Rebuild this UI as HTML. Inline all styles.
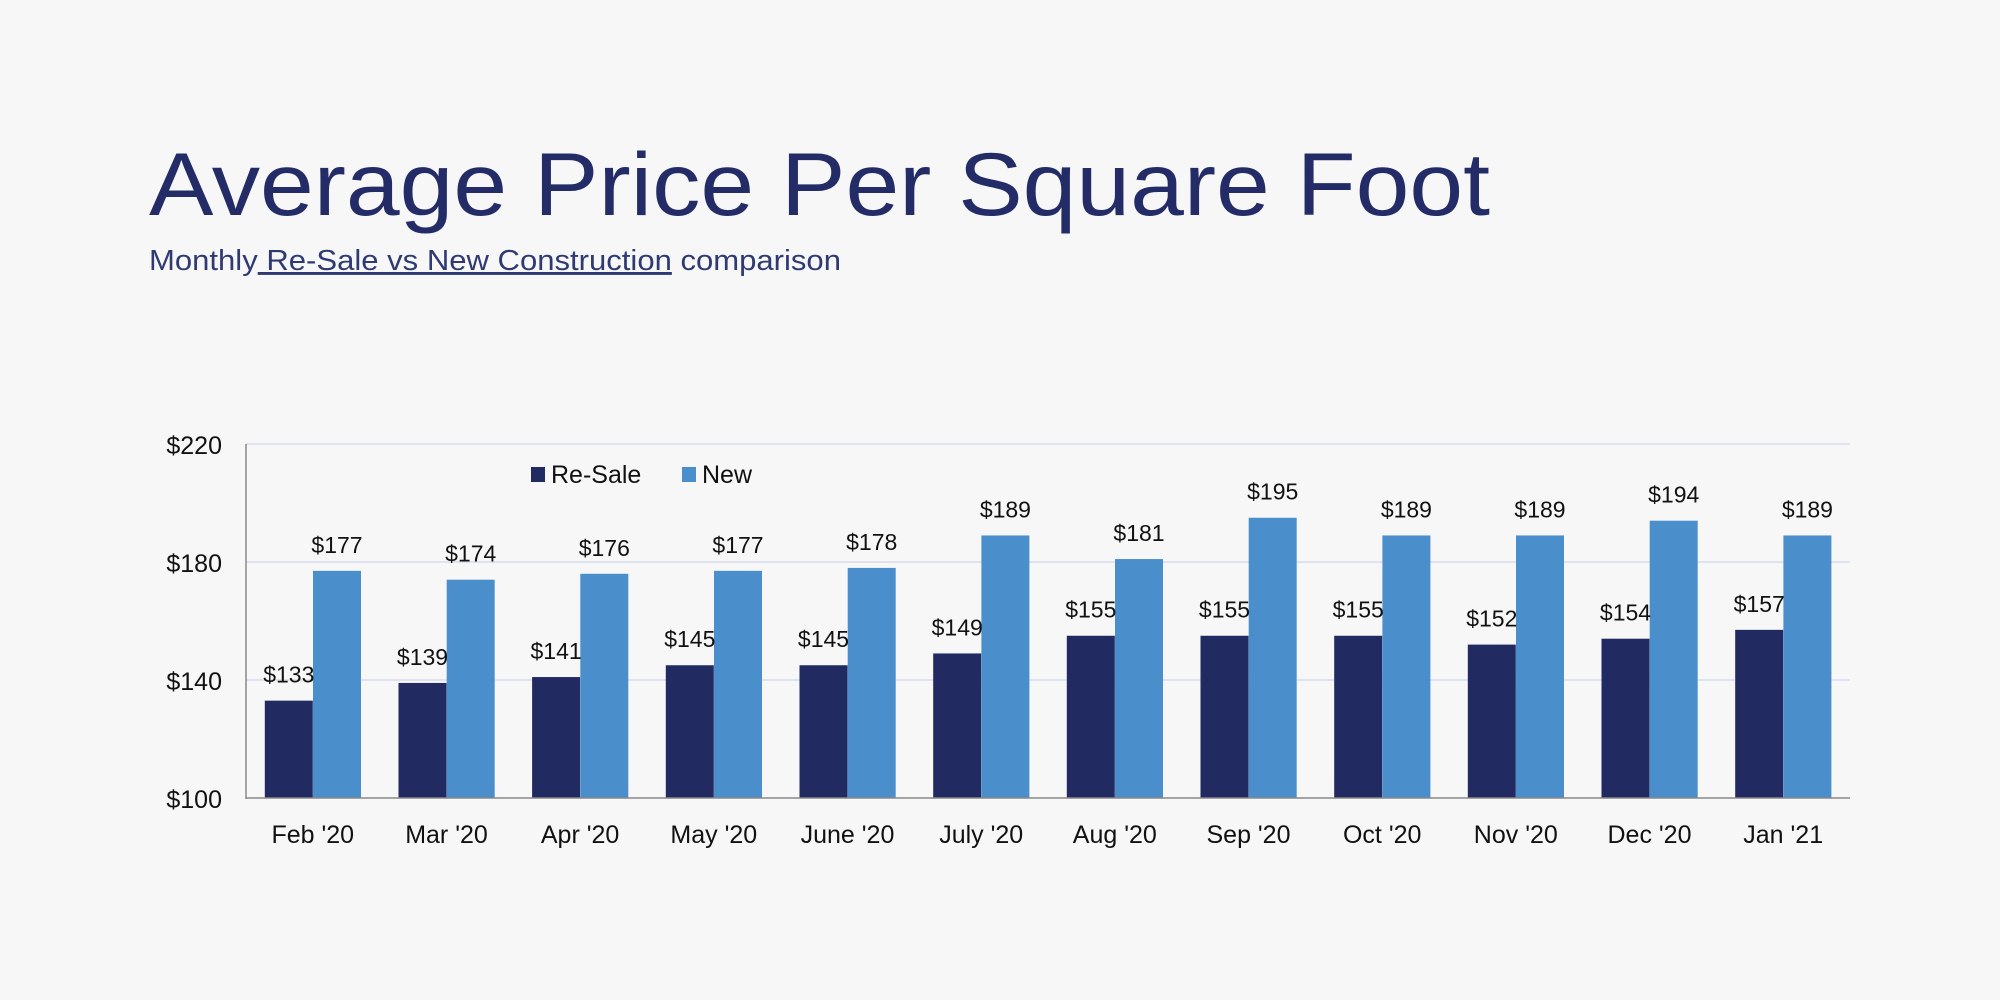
<!DOCTYPE html>
<html><head><meta charset="utf-8"><style>
html,body{margin:0;padding:0;background:#f7f7f7;}
svg{display:block;font-family:"Liberation Sans",sans-serif;}
</style></head><body>
<svg width="2000" height="1000" viewBox="0 0 2000 1000" xmlns="http://www.w3.org/2000/svg">
<rect width="2000" height="1000" fill="#f7f7f7"/>
<text x="149" y="215" font-size="89" fill="#232c66" textLength="1341" lengthAdjust="spacingAndGlyphs">Average Price Per Square Foot</text>
<text x="149" y="270" font-size="29" fill="#2f3a73" textLength="692" lengthAdjust="spacingAndGlyphs">Monthly<tspan text-decoration="underline"> Re-Sale vs New Construction</tspan> comparison</text>
<line x1="246" y1="444" x2="1850" y2="444" stroke="#dfe2ef" stroke-width="2"/>
<line x1="246" y1="562" x2="1850" y2="562" stroke="#dfe2ef" stroke-width="2"/>
<line x1="246" y1="680" x2="1850" y2="680" stroke="#dfe2ef" stroke-width="2"/>
<g font-size="25" fill="#111" text-anchor="end">
<text x="222" y="454">$220</text><text x="222" y="572">$180</text><text x="222" y="690">$140</text><text x="222" y="808">$100</text>
</g>
<rect x="531" y="467" width="14" height="15" fill="#222a62"/>
<text x="551" y="483" font-size="25" fill="#111">Re-Sale</text>
<rect x="682" y="467" width="14" height="15" fill="#4a8fcc"/>
<text x="702" y="483" font-size="25" fill="#111">New</text>
<g fill="#222a62">
<rect x="264.8" y="700.65" width="48" height="97.35"/>
<rect x="398.5" y="682.95" width="48" height="115.05"/>
<rect x="532.1" y="677.05" width="48" height="120.95"/>
<rect x="665.8" y="665.25" width="48" height="132.75"/>
<rect x="799.5" y="665.25" width="48" height="132.75"/>
<rect x="933.2" y="653.45" width="48" height="144.55"/>
<rect x="1066.8" y="635.75" width="48" height="162.25"/>
<rect x="1200.5" y="635.75" width="48" height="162.25"/>
<rect x="1334.2" y="635.75" width="48" height="162.25"/>
<rect x="1467.8" y="644.6" width="48" height="153.4"/>
<rect x="1601.5" y="638.7" width="48" height="159.3"/>
<rect x="1735.2" y="629.85" width="48" height="168.15"/>
</g>
<g fill="#4a8fcc">
<rect x="313" y="570.85" width="48" height="227.15"/>
<rect x="446.7" y="579.7" width="48" height="218.3"/>
<rect x="580.3" y="573.8" width="48" height="224.2"/>
<rect x="714" y="570.85" width="48" height="227.15"/>
<rect x="847.7" y="567.9" width="48" height="230.1"/>
<rect x="981.4" y="535.45" width="48" height="262.55"/>
<rect x="1115" y="559.05" width="48" height="238.95"/>
<rect x="1248.7" y="517.75" width="48" height="280.25"/>
<rect x="1382.4" y="535.45" width="48" height="262.55"/>
<rect x="1516" y="535.45" width="48" height="262.55"/>
<rect x="1649.7" y="520.7" width="48" height="277.3"/>
<rect x="1783.4" y="535.45" width="48" height="262.55"/>
</g>
<line x1="246" y1="444" x2="246" y2="799" stroke="#888" stroke-width="1.5"/>
<line x1="246" y1="798" x2="1850" y2="798" stroke="#888" stroke-width="1.5"/>
<g font-size="23" fill="#111" text-anchor="middle">
<text x="288.8" y="682.6">$133</text>
<text x="422.5" y="665">$139</text>
<text x="556.1" y="659">$141</text>
<text x="689.8" y="647.2">$145</text>
<text x="823.5" y="647.2">$145</text>
<text x="957.2" y="635.4">$149</text>
<text x="1090.8" y="617.7">$155</text>
<text x="1224.5" y="617.7">$155</text>
<text x="1358.2" y="617.7">$155</text>
<text x="1491.8" y="626.6">$152</text>
<text x="1625.5" y="620.7">$154</text>
<text x="1759.2" y="611.8">$157</text>
<text x="337" y="552.8">$177</text>
<text x="470.7" y="561.7">$174</text>
<text x="604.3" y="555.8">$176</text>
<text x="738" y="552.8">$177</text>
<text x="871.7" y="549.9">$178</text>
<text x="1005.4" y="517.4">$189</text>
<text x="1139" y="541">$181</text>
<text x="1272.7" y="499.7">$195</text>
<text x="1406.4" y="517.4">$189</text>
<text x="1540" y="517.4">$189</text>
<text x="1673.7" y="502.7">$194</text>
<text x="1807.4" y="517.4">$189</text>
</g>
<g font-size="25" fill="#111" text-anchor="middle">
<text x="312.8" y="843">Feb '20</text>
<text x="446.5" y="843">Mar '20</text>
<text x="580.1" y="843">Apr '20</text>
<text x="713.8" y="843">May '20</text>
<text x="847.5" y="843">June '20</text>
<text x="981.2" y="843">July '20</text>
<text x="1114.8" y="843">Aug '20</text>
<text x="1248.5" y="843">Sep '20</text>
<text x="1382.2" y="843">Oct '20</text>
<text x="1515.8" y="843">Nov '20</text>
<text x="1649.5" y="843">Dec '20</text>
<text x="1783.2" y="843">Jan '21</text>
</g>
</svg>
</body></html>
